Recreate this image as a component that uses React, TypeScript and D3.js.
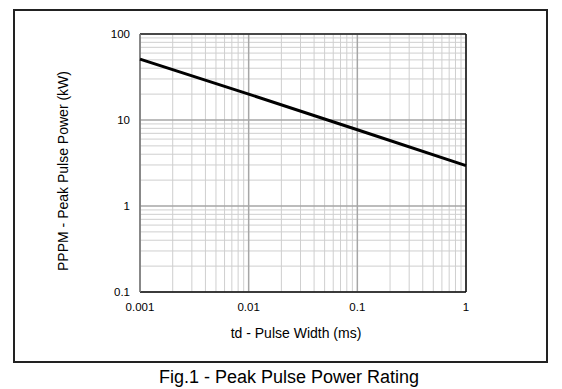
import React, { useEffect, useRef } from "react";
import * as d3 from "d3";

// pulse width (ms) vs peak pulse power (kW)
const pulseWidth = [0.001, 0.01, 0.1, 1];
const peakPower = [51, 20, 7.7, 2.95];

const xTicks = [0.001, 0.01, 0.1, 1];
const xTickLabels = ["0.001", "0.01", "0.1", "1"];
const yTicks = [0.1, 1, 10, 100];
const yTickLabels = ["0.1", "1", "10", "100"];

const W = 562;
const H = 389;
const margin = { left: 140, top: 34, right: 96, bottom: 97 };

const App = () => {
  const ref = useRef<SVGSVGElement>(null);

  useEffect(() => {
    const svg = d3.select(ref.current);
    svg.selectAll("*").remove();

    const x = d3.scaleLog().domain([0.001, 1]).range([margin.left, W - margin.right]);
    const y = d3.scaleLog().domain([0.1, 100]).range([H - margin.bottom, margin.top]);
    const font = "Arial, 'Liberation Sans', sans-serif";

    // outer frame
    svg.append("rect")
      .attr("x", 14).attr("y", 10).attr("width", 533).attr("height", 352)
      .attr("fill", "none").attr("stroke", "#222").attr("stroke-width", 2);

    // minor grid
    const minorX: number[] = [];
    const minorY: number[] = [];
    for (const d of [0.001, 0.01, 0.1]) for (let k = 2; k < 10; k++) minorX.push(d * k);
    for (const d of [0.1, 1, 10]) for (let k = 2; k < 10; k++) minorY.push(d * k);

    const g = svg.append("g");
    g.selectAll("line.mx").data(minorX).enter().append("line")
      .attr("x1", (d) => x(d)).attr("x2", (d) => x(d))
      .attr("y1", y(0.1)).attr("y2", y(100))
      .attr("stroke", "#cfcfcf").attr("stroke-width", 1);
    g.selectAll("line.my").data(minorY).enter().append("line")
      .attr("y1", (d) => y(d)).attr("y2", (d) => y(d))
      .attr("x1", x(0.001)).attr("x2", x(1))
      .attr("stroke", "#cfcfcf").attr("stroke-width", 1);
    // decade lines
    g.selectAll("line.Mx").data(xTicks).enter().append("line")
      .attr("x1", (d) => x(d)).attr("x2", (d) => x(d))
      .attr("y1", y(0.1)).attr("y2", y(100))
      .attr("stroke", "#a6a6a6").attr("stroke-width", 1.5);
    g.selectAll("line.My").data(yTicks).enter().append("line")
      .attr("y1", (d) => y(d)).attr("y2", (d) => y(d))
      .attr("x1", x(0.001)).attr("x2", x(1))
      .attr("stroke", "#a6a6a6").attr("stroke-width", 1.5);

    // plot frame: dark bottom/top/right, grey left
    svg.append("line").attr("x1", x(0.001)).attr("x2", x(1)).attr("y1", y(0.1)).attr("y2", y(0.1))
      .attr("stroke", "#111").attr("stroke-width", 1.5);
    svg.append("line").attr("x1", x(0.001)).attr("x2", x(1)).attr("y1", y(100)).attr("y2", y(100))
      .attr("stroke", "#222").attr("stroke-width", 1.5);
    svg.append("line").attr("x1", x(1)).attr("x2", x(1)).attr("y1", y(0.1)).attr("y2", y(100))
      .attr("stroke", "#111").attr("stroke-width", 1.5);
    svg.append("line").attr("x1", x(0.001)).attr("x2", x(0.001)).attr("y1", y(0.1)).attr("y2", y(100))
      .attr("stroke", "#777").attr("stroke-width", 1.5);

    // curve
    const line = d3.line<number>()
      .x((d, i) => x(pulseWidth[i]))
      .y((d) => y(d));
    svg.append("path")
      .attr("d", line(peakPower))
      .attr("fill", "none").attr("stroke", "#000").attr("stroke-width", 3);

    // tick labels
    svg.selectAll("text.xt").data(xTicks).enter().append("text")
      .attr("x", (d) => x(d)).attr("y", 311)
      .attr("text-anchor", "middle")
      .style("font-family", font).style("font-size", "11.5px")
      .text((d, i) => xTickLabels[i]);
    svg.selectAll("text.yt").data(yTicks).enter().append("text")
      .attr("x", 130).attr("y", (d) => y(d) + 4)
      .attr("text-anchor", "end")
      .style("font-family", font).style("font-size", "11.5px")
      .text((d, i) => yTickLabels[i]);

    // axis titles
    svg.append("text")
      .attr("x", 296).attr("y", 338).attr("text-anchor", "middle")
      .style("font-family", font).style("font-size", "14px")
      .text("td - Pulse Width (ms)");
    svg.append("text")
      .attr("transform", "translate(67.5,171) rotate(-90)")
      .attr("text-anchor", "middle")
      .style("font-family", font).style("font-size", "14px")
      .text("PPPM - Peak Pulse Power (kW)");

    // caption
    svg.append("text")
      .attr("x", 289).attr("y", 383).attr("text-anchor", "middle")
      .style("font-family", font).style("font-size", "18px")
      .text("Fig.1 - Peak Pulse Power Rating");
  }, []);

  return (
    <svg
      ref={ref}
      width={W}
      height={H}
      style={{ position: "absolute", left: 0, top: 0, background: "#fff" }}
    ></svg>
  );
};

export default App;
